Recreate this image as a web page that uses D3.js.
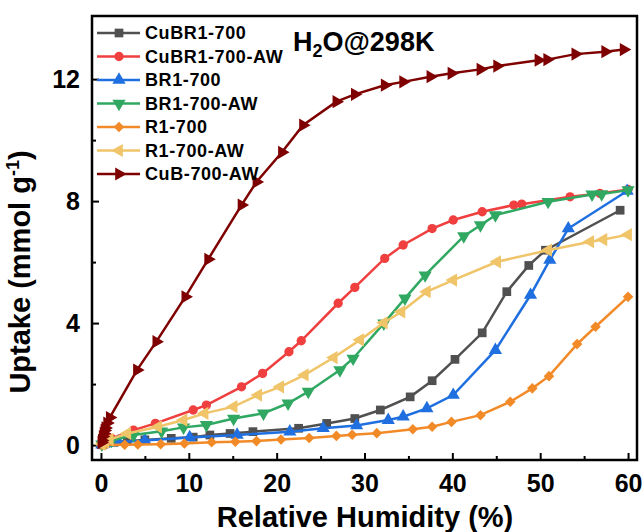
<html>
<head>
<style>
body { margin: 0; background: #fff; }
text { font-family: "Liberation Sans", Arial, sans-serif; font-weight: bold; fill: #000; }
</style>
</head>
<body>
<div id="chart"></div>
<script src="https://d3js.org/d3.v7.min.js"></script>
<script>

// ---- data ----
var seriesNames = ["CuBR1-700", "CuBR1-700-AW", "BR1-700", "BR1-700-AW", "R1-700", "R1-700-AW", "CuB-700-AW"];
var seriesColors = ["#505050", "#ef3f3f", "#1f6fe0", "#30a862", "#f28a28", "#f0c468", "#7f0000"];

var cubr1_700_x = [0.1, 0.5, 1.5, 3, 5, 8, 10.5, 12.4, 14.7, 17.3, 22.5, 25.7, 28.9, 31.8, 35.2, 37.7, 40.3, 43.4, 46.2, 48.7, 50.6, 59.1];
var cubr1_700_y = [0.01, 0.05, 0.09, 0.13, 0.17, 0.22, 0.26, 0.33, 0.38, 0.44, 0.55, 0.71, 0.87, 1.15, 1.58, 2.11, 2.81, 3.68, 5.03, 5.89, 6.39, 7.70];

var cubr1_700aw_x = [0.1, 0.5, 1.2, 3.7, 6.2, 10.5, 12.0, 16.0, 18.4, 21.4, 22.8, 27.0, 28.9, 32.3, 34.4, 37.7, 40.1, 43.4, 47.0, 47.9, 53.4, 56.8, 60];
var cubr1_700aw_y = [0.03, 0.12, 0.22, 0.49, 0.71, 1.15, 1.31, 1.91, 2.35, 3.06, 3.42, 4.65, 5.17, 6.12, 6.56, 7.10, 7.38, 7.65, 7.87, 7.90, 8.14, 8.25, 8.38];

var br1_700_x = [0.1, 0.5, 2, 5, 10.1, 15.5, 21.5, 25.3, 29.1, 32.7, 34.4, 37.1, 40.1, 44.9, 48.9, 51.1, 53.2, 59.9];
var br1_700_y = [0.01, 0.05, 0.1, 0.15, 0.25, 0.33, 0.44, 0.55, 0.64, 0.82, 0.93, 1.20, 1.64, 3.11, 4.92, 6.07, 7.10, 8.33];

var br1_700aw_x = [0.1, 0.5, 1.2, 3.7, 6.9, 9.4, 12.0, 15.1, 18.5, 21.3, 23.6, 27.2, 28.7, 32.2, 34.6, 36.9, 41.3, 43.2, 44.9, 50.9, 55.9, 57.0, 60];
var br1_700aw_y = [0.02, 0.08, 0.15, 0.33, 0.45, 0.58, 0.66, 0.87, 1.04, 1.37, 1.75, 2.46, 2.84, 3.99, 4.81, 5.57, 6.85, 7.21, 7.54, 7.98, 8.22, 8.23, 8.36];

var r1_700_x = [0.1, 0.5, 2.7, 4.2, 6.8, 9.5, 12.6, 15.3, 17.7, 20.5, 23.7, 26.8, 28.6, 31.4, 35.5, 37.7, 39.9, 43.2, 46.6, 49.1, 51.0, 54.2, 56.3, 60];
var r1_700_y = [0.0, 0.01, 0.01, 0.02, 0.03, 0.05, 0.09, 0.11, 0.13, 0.18, 0.23, 0.3, 0.34, 0.39, 0.52, 0.6, 0.76, 0.98, 1.42, 1.86, 2.26, 3.31, 3.88, 4.86];

var r1_700aw_x = [0.1, 0.5, 1.0, 3.0, 6.5, 9.4, 11.8, 15.1, 17.9, 20.4, 23.2, 26.5, 29.5, 32.2, 34.2, 37.1, 40.1, 45.1, 50.9, 55.7, 57.2, 60];
var r1_700aw_y = [0.03, 0.1, 0.18, 0.38, 0.6, 0.82, 1.04, 1.26, 1.64, 1.91, 2.30, 2.87, 3.45, 4.01, 4.37, 5.03, 5.41, 6.01, 6.39, 6.67, 6.74, 6.9];

var cub_700aw_x = [0.05, 0.1, 0.2, 0.3, 0.4, 0.5, 0.7, 1.0, 4.1, 6.3, 9.6, 12.2, 16.0, 17.7, 20.6, 23.0, 26.8, 28.9, 32.3, 34.4, 37.5, 39.9, 43.2, 45.1, 49.8, 50.8, 54.0, 57.4, 59.5];
var cub_700aw_y = [0.08, 0.15, 0.28, 0.38, 0.48, 0.56, 0.72, 0.9, 2.46, 3.39, 4.86, 6.09, 7.87, 8.63, 9.6, 10.49, 11.26, 11.5, 11.8, 11.91, 12.08, 12.19, 12.32, 12.43, 12.62, 12.64, 12.82, 12.9, 12.97];

var xTicks = [0, 10, 20, 30, 40, 50, 60];
var xMinor = [5, 15, 25, 35, 45, 55];
var yTicks = [0, 4, 8, 12];
var yMinor = [2, 6, 10];

var allX = [cubr1_700_x, cubr1_700aw_x, br1_700_x, br1_700aw_x, r1_700_x, r1_700aw_x, cub_700aw_x];
var allY = [cubr1_700_y, cubr1_700aw_y, br1_700_y, br1_700aw_y, r1_700_y, r1_700aw_y, cub_700aw_y];

// symbol type + rotation per series (diamond = square turned 45deg)
var shapes = [
  {type: d3.symbolSquare, size: 76, rot: 0},
  {type: d3.symbolCircle, size: 68, rot: 0},
  {type: d3.symbolTriangle, size: 76, rot: 0},
  {type: d3.symbolTriangle, size: 76, rot: 180},
  {type: d3.symbolSquare, size: 56, rot: 45},
  {type: d3.symbolTriangle, size: 76, rot: -90},
  {type: d3.symbolTriangle, size: 76, rot: 90}
];

var margin = {top: 16, left: 92},
    width = 545,
    height = 444;

var svg = d3.select("#chart").append("svg")
    .attr("width", 644)
    .attr("height", 532)
  .append("g")
    .attr("transform", "translate(" + margin.left + "," + margin.top + ")");

var x = d3.scaleLinear().domain([-1.02, 61.02]).range([0, width]);
var y = d3.scaleLinear().domain([-0.49, 14.07]).range([height, 0]);

// ticks (inward)
var xAxis = svg.append("g")
    .attr("transform", "translate(0," + height + ")")
    .call(d3.axisBottom(x).tickValues(xTicks).tickSizeInner(-7).tickSizeOuter(0).tickPadding(14));
var xAxisMinor = svg.append("g")
    .attr("transform", "translate(0," + height + ")")
    .call(d3.axisBottom(x).tickValues(xMinor).tickSizeInner(-4).tickSizeOuter(0).tickFormat(""));
var yAxis = svg.append("g")
    .call(d3.axisLeft(y).tickValues(yTicks).tickSizeInner(-7).tickSizeOuter(0).tickPadding(12));
var yAxisMinor = svg.append("g")
    .call(d3.axisLeft(y).tickValues(yMinor).tickSizeInner(-4).tickSizeOuter(0).tickFormat(""));

svg.selectAll(".domain").remove();
svg.selectAll(".tick line").attr("stroke", "#000").attr("stroke-width", 2);
xAxis.selectAll("text").style("font-size", "25px").attr("dy", "0.71em");
yAxis.selectAll("text").style("font-size", "25px");

// series
var line = d3.line()
    .x(function(d) { return x(d[0]); })
    .y(function(d) { return y(d[1]); });

seriesNames.forEach(function(name, i) {
  var pts = allX[i].map(function(v, j) { return [v, allY[i][j]]; });
  var sym = d3.symbol().type(shapes[i].type).size(shapes[i].size);
  var g = svg.append("g");
  g.append("path")
      .datum(pts)
      .attr("d", line)
      .attr("fill", "none")
      .attr("stroke", seriesColors[i])
      .attr("stroke-width", 2.5);
  g.selectAll("path.pt")
      .data(pts)
      .enter()
      .append("path")
        .attr("class", "pt")
        .attr("d", sym)
        .attr("transform", function(d) { return "translate(" + x(d[0]) + "," + y(d[1]) + ") rotate(" + shapes[i].rot + ")"; })
        .attr("fill", seriesColors[i]);
});

// frame
svg.append("rect")
    .attr("width", width)
    .attr("height", height)
    .attr("fill", "none")
    .attr("stroke", "#000")
    .attr("stroke-width", 2.5);

// legend
var legend = svg.selectAll(".legend")
    .data(seriesNames)
    .enter()
    .append("g")
      .attr("class", "legend")
      .attr("transform", function(d, i) { return "translate(0," + (17 + i * 23.5) + ")"; });

legend.append("line")
    .attr("x1", 5).attr("x2", 48)
    .attr("stroke", function(d, i) { return seriesColors[i]; })
    .attr("stroke-width", 2.5);

legend.append("path")
    .attr("d", function(d, i) { return d3.symbol().type(shapes[i].type).size(shapes[i].size)(); })
    .attr("transform", function(d, i) { return "translate(27,0) rotate(" + shapes[i].rot + ")"; })
    .attr("fill", function(d, i) { return seriesColors[i]; });

legend.append("text")
    .attr("x", 53)
    .attr("dy", "0.36em")
    .style("font-size", "18px")
    .style("letter-spacing", "0.6px")
    .text(function(d) { return d; });

// title
var title = svg.append("text")
    .attr("x", 201)
    .attr("y", 35)
    .style("font-size", "27px");
title.append("tspan").text("H");
title.append("tspan").attr("dy", 6).style("font-size", "18px").text("2");
title.append("tspan").attr("dy", -6).text("O@298K");

// axis titles
svg.append("text")
    .attr("x", 273)
    .attr("y", height + 67)
    .attr("text-anchor", "middle")
    .style("font-size", "29px")
    .text("Relative Humidity (%)");

var yl = svg.append("text")
    .attr("transform", "translate(-62," + (height / 2 + 34) + ") rotate(-90)")
    .attr("text-anchor", "middle")
    .style("font-size", "29px");
yl.append("tspan").text("Uptake (mmol g");
yl.append("tspan").attr("dy", -11).style("font-size", "18px").text("-1");
yl.append("tspan").attr("dy", 11).text(")");

</script>
</body>
</html>
